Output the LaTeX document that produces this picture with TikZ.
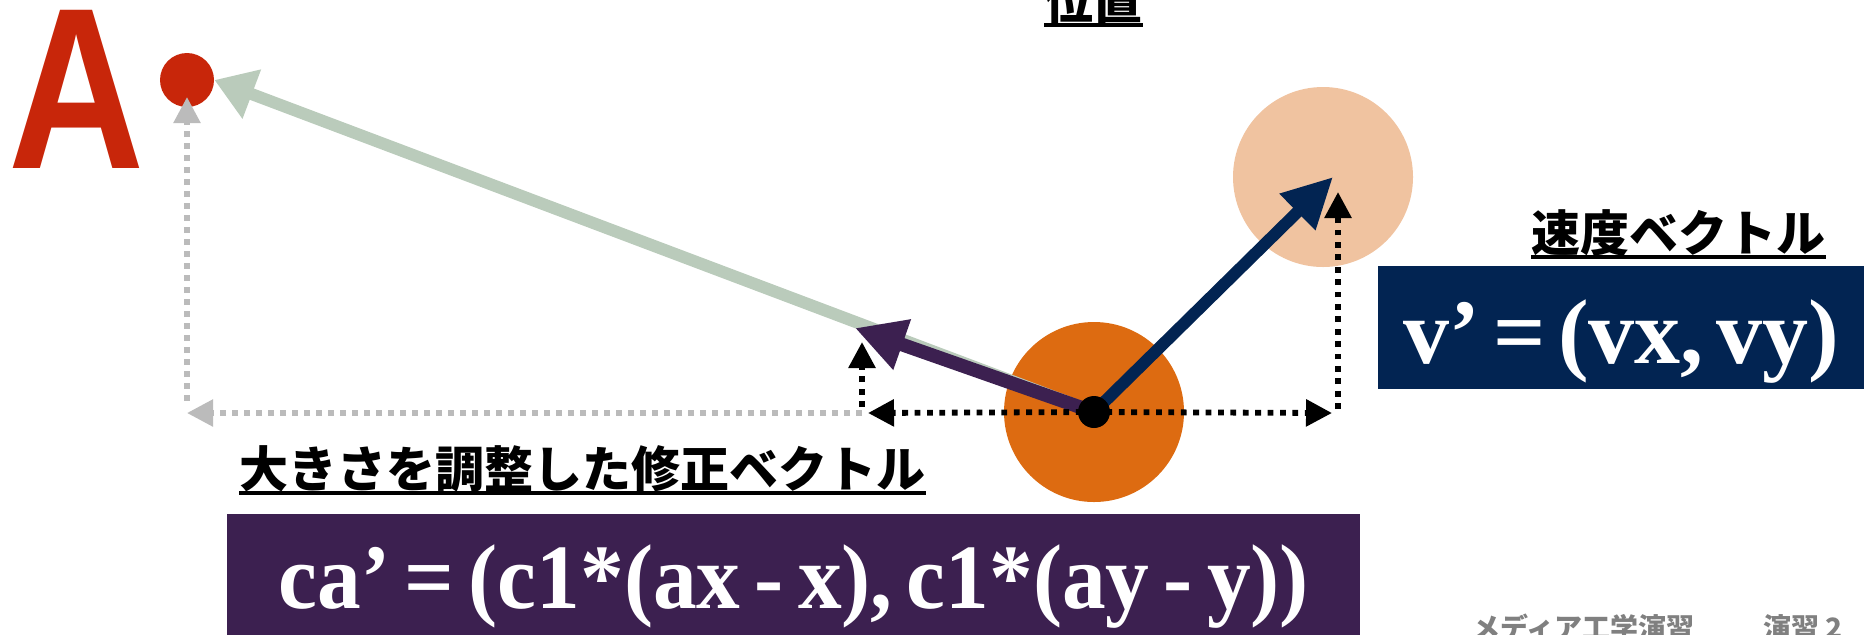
\documentclass[tikz,border=0pt]{standalone}
\usepackage{fontspec}
\usepackage{graphicx}
\usepackage{tikz}
\usetikzlibrary{arrows.meta}

\newfontfamily\jpfont{Noto Sans CJK JP}
\newfontfamily\formfont{Liberation Serif}[WordSpace=0.55]
\newfontfamily\formnarrow{Liberation Serif}[WordSpace=0.65, FakeStretch=0.95]
\newfontfamily\capfont{Liberation Sans}

\definecolor{markred}{RGB}{200,38,10}
\definecolor{pathgreen}{RGB}{186,203,187}
\definecolor{ballorange}{RGB}{221,107,17}
\definecolor{ghostorange}{RGB}{240,195,160}
\definecolor{velnavy}{RGB}{2,36,82}
\definecolor{corrpurple}{RGB}{60,32,80}
\definecolor{guidegray}{RGB}{187,187,187}
\definecolor{footgray}{RGB}{128,128,128}

\tikzset{
  jplabel/.style={anchor=base west, inner sep=0pt,
    font=\jpfont\bfseries\fontsize{24.5pt}{24.5pt}\selectfont},
  formula/.style={anchor=base, inner sep=0pt, text=white,
    font=\formfont\bfseries\fontsize{46pt}{46pt}\selectfont},
  footer/.style={anchor=base west, inner sep=0pt, text=footgray,
    font=\jpfont\bfseries\fontsize{14pt}{14pt}\selectfont},
  dots/.style={black, line width=2.9pt, dash pattern=on 2.9pt off 3.3pt,
    -{Triangle[length=13pt, width=13pt]}},
  guide/.style={guidegray, line width=2.7pt, dash pattern=on 3.2pt off 2.8pt,
    -{Triangle[length=13pt, width=13pt]}},
  disk/.style={circle, inner sep=0pt, draw=none}
}

\begin{document}
\begin{tikzpicture}[x=0.5pt, y=-0.5pt]
        \useasboundingbox (0,0) rectangle (1871,634);

        % ====================
        % 1. Target point A
        % ====================
        \node[anchor=base west, inner sep=0pt, text=markred,
              font=\capfont\bfseries\fontsize{115pt}{115pt}\selectfont]
              (lettera) at (8,168) {\scalebox{0.82}[1]{A}};
        \node[disk, fill=markred, minimum size=27pt] (adot) at (187,80) {};

        % ====================
        % 2. Ball and next position
        % ====================
        \node[disk, fill=ghostorange, minimum size=90pt] (nextpos) at (1323,177) {};
        \node[disk, fill=ballorange, minimum size=90pt] (ball) at (1094,412) {};

        \coordinate (ptip) at (855,328);
        \coordinate (vtip) at (1333,177);
        \coordinate (cxend) at (862,413);
        \coordinate (cyend) at (862,342);
        \coordinate (vxend) at (1338,413);
        \coordinate (vyend) at (1338,192);
        \coordinate (gxend) at (187,413);
        \coordinate (gyend) at (187,97);

        % gray guides (full distance to A)
        \draw[guide] (cxend) -- (gxend);
        \draw[guide] ([yshift=6pt]gxend) -- (gyend);

        % vector to A
        \draw[pathgreen, line width=6pt, -{Triangle[length=20pt, width=25pt]}]
              (ball.center) -- (adot.east);

        % scaled correction vector
        \draw[corrpurple, line width=6.8pt, -{Triangle[length=25pt, width=25pt]}]
              (ball.center) -- (ptip);

        % velocity vector
        \draw[velnavy, line width=6pt, -{Triangle[length=25pt, width=24pt]}]
              (ball.center) -- (vtip);

        % components
        \draw[dots] (ball.center) -- ([xshift=3pt]cxend);
        \draw[dots] ([yshift=3pt]cxend) -- (cyend);
        \draw[dots] (ball.center) -- ([xshift=-3pt]vxend);
        \draw[dots] ([yshift=2pt]vxend) -- (vyend);

        \node[disk, fill=black, minimum size=16pt] (pos) at (ball.center) {};

        % ====================
        % 3. Labels and formulas
        % ====================
        \node[jplabel] (poslbl) at (1044,19) {位置};
        \node[jplabel] (vellbl) at (1531,251) {速度ベクトル};
        \node[jplabel] (corrlbl) at (239,487) {大きさを調整した修正ベクトル};
        \foreach \n in {poslbl, vellbl, corrlbl} {
            \draw[line width=1.6pt] ([yshift=-3pt]\n.base west) -- ([yshift=-3pt]\n.base east);
        }

        \node[fill=velnavy, anchor=north west, inner sep=0pt,
              minimum width=243pt, minimum height=61.5pt] (velbox) at (1378,266) {};
        \node[formula] (veltext) at ([yshift=13pt]velbox.south) {v’ = (vx, vy)};

        \node[fill=corrpurple, anchor=north west, inner sep=0pt,
              minimum width=566.5pt, minimum height=62pt] (corrbox) at (227,514) {};
        \node[formula, font=\formnarrow\bfseries\fontsize{46pt}{46pt}\selectfont]
              (corrtext) at ([yshift=15pt]corrbox.south) {ca’ = (c1*(ax - x), c1*(ay - y))};

        \node[footer] (foot1) at (1472,638) {メディア工学演習};
        \node[footer] (foot2) at (1763,638) {演習 2};

    \end{tikzpicture}
\end{document}
